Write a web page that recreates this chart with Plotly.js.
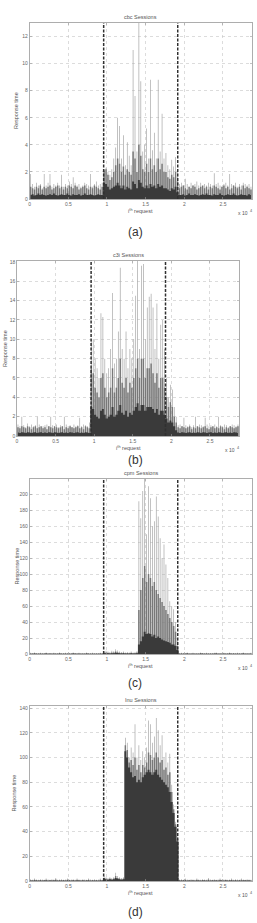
<!DOCTYPE html>
<html><head><meta charset="utf-8">
<script src="https://cdn.plot.ly/plotly-3.0.1.min.js"></script>
<style>html,body{margin:0;padding:0;background:#fff}#chart{width:257px;height:923px}</style>
</head><body><div id="chart"></div>
<script>
// ---- data: responses binned per 250 requests (115 bins, 0 .. 28750) ----
const BIN = 250;
const xTickVals = [0, 5000, 10000, 15000, 20000, 25000];
const xTickText = ['0', '0.5', '1', '1.5', '2', '2.5'];
const xMax = 28760;

// (a) cbc
const peakA = [1.85,1.1,0.9,1.2,1.0,1.1,0.8,1.85,1.0,1.2,1.85,0.9,1.1,1.0,1.2,1.0,1.8,0.9,1.1,1.0,1.3,1.1,1.6,1.2,1.0,1.1,0.9,1.0,1.2,1.1,1.0,1.85,0.9,1.1,1.3,1.0,1.1,1.2,
 2.2,2.3,2.0,1.8,2.2,3.0,3.8,6.0,5.4,3.0,4.7,2.5,4.2,3.2,2.5,11.0,7.6,3.5,13.0,8.7,3.5,4.0,5.2,3.0,8.8,3.6,4.9,3.0,8.8,3.5,6.3,3.0,3.4,2.5,2.2,2.9,2.4,3.1,2.0,
 1.1,1.2,1.0,1.5,1.1,0.9,1.2,1.0,1.1,1.3,1.0,1.2,0.9,1.1,1.0,1.2,1.1,1.0,1.9,1.1,1.2,1.0,0.9,1.1,1.2,1.0,1.85,1.1,1.0,1.2,0.9,1.1,1.0,1.2,1.1,1.0,1.1,0.9];
const midA = [0.9,0.8,0.7,0.9,0.8,1.0,0.7,0.9,0.8,0.9,1.0,0.7,0.8,0.9,1.0,0.8,0.9,0.7,0.9,0.8,1.0,0.9,0.8,1.0,0.9,0.7,0.8,0.9,1.0,0.8,0.7,0.9,0.8,1.0,0.9,0.8,0.7,0.9,
 2.1,2.2,1.8,1.4,1.6,2.0,2.5,3.0,2.6,2.0,2.4,1.8,2.2,2.0,1.8,3.5,3.0,2.0,4.0,3.2,2.2,2.0,2.6,2.0,3.0,2.2,2.5,2.0,3.0,2.2,2.6,2.0,2.0,1.6,1.5,1.8,1.6,2.0,1.3,
 0.8,0.9,1.0,0.8,0.7,0.9,0.8,1.0,0.9,0.7,0.8,0.9,1.0,0.8,0.9,0.7,0.9,0.8,1.0,0.9,0.8,0.7,0.9,1.0,0.8,0.9,0.7,0.8,1.0,0.9,0.8,0.9,0.7,1.0,0.8,0.9,0.8,0.7];
const coreA = [0.3,0.35,0.25,0.3,0.4,0.3,0.35,0.3,0.25,0.3,0.35,0.3,0.4,0.3,0.25,0.3,0.35,0.3,0.3,0.4,0.3,0.25,0.35,0.3,0.3,0.35,0.25,0.3,0.4,0.3,0.3,0.35,0.3,0.25,0.3,0.35,0.3,0.3,
 1.2,1.1,0.9,0.7,0.8,0.9,1.0,1.2,1.0,0.8,1.0,0.7,0.9,0.8,0.7,1.3,1.1,0.8,1.4,1.2,0.9,0.8,1.0,0.8,1.1,0.9,1.0,0.8,1.1,0.9,1.0,0.8,0.8,0.7,0.6,0.8,0.7,0.9,0.5,
 0.3,0.3,0.35,0.25,0.3,0.4,0.3,0.3,0.35,0.3,0.25,0.3,0.35,0.3,0.4,0.3,0.3,0.25,0.35,0.3,0.3,0.4,0.3,0.25,0.3,0.35,0.3,0.3,0.4,0.3,0.25,0.3,0.35,0.3,0.3,0.25,0.35,0.3];
const boundsA = [9570, 19150];

// (b) c3i
const peakB = [1.2,1.0,2.0,1.1,0.9,1.3,1.0,1.2,1.0,1.1,2.0,1.2,0.9,1.0,1.1,1.2,1.0,2.0,1.1,1.0,1.2,0.9,1.1,1.0,2.0,1.2,1.0,1.1,0.9,1.2,1.0,1.1,1.9,1.0,1.2,1.1,1.0,1.4,
 10.0,10.0,8.0,7.0,6.0,12.7,12.3,8.0,6.5,7.0,9.0,14.8,7.5,8.0,10.8,17.4,9.0,8.0,10.8,7.0,9.0,8.0,10.0,14.5,18.1,9.0,17.6,17.8,10.0,13.3,14.4,14.7,13.3,9.0,13.7,8.0,11.5,12.0,9.0,6.0,4.0,5.3,4.8,3.0,2.0,
 1.1,1.2,1.0,1.9,1.1,1.0,1.2,0.9,1.1,2.0,1.0,1.2,1.1,1.0,1.9,1.2,1.0,1.1,0.9,1.2,1.0,2.0,1.1,1.0,1.2,1.1,0.9,1.0,1.2,1.1,1.0,1.2];
const midB = [0.9,0.8,1.0,0.9,0.8,1.0,0.9,0.7,0.9,1.0,0.8,0.9,1.0,0.8,0.9,0.7,1.0,0.9,0.8,1.0,0.9,0.8,0.9,1.0,0.7,0.9,0.8,1.0,0.9,0.8,0.9,1.0,0.8,0.9,0.7,1.0,0.9,0.8,
 7.0,6.5,5.0,4.5,4.0,6.0,6.5,5.0,4.0,4.5,5.0,7.0,4.5,5.0,6.0,8.0,5.5,5.0,6.0,4.5,5.5,5.0,6.0,7.0,8.0,6.0,8.0,8.0,6.0,7.0,7.0,7.5,6.5,5.5,6.5,5.0,6.0,6.0,5.0,4.0,3.0,3.5,3.0,2.0,1.4,
 0.9,0.8,1.0,0.9,0.8,0.9,1.0,0.7,0.9,0.8,1.0,0.9,0.8,0.9,1.0,0.8,0.7,0.9,1.0,0.8,0.9,0.8,1.0,0.9,0.7,0.9,0.8,1.0,0.9,0.8,0.9,1.0];
const coreB = [0.35,0.3,0.4,0.35,0.3,0.4,0.35,0.3,0.35,0.4,0.3,0.35,0.4,0.3,0.35,0.3,0.4,0.35,0.3,0.4,0.35,0.3,0.35,0.4,0.3,0.35,0.3,0.4,0.35,0.3,0.35,0.4,0.3,0.35,0.3,0.4,0.35,0.3,
 3.0,2.8,2.2,2.0,1.8,2.6,2.8,2.2,1.8,2.0,2.2,3.0,2.0,2.2,2.6,3.2,2.4,2.2,2.6,2.0,2.4,2.2,2.6,3.0,3.4,2.6,3.2,3.2,2.6,3.0,3.0,3.0,2.8,2.4,2.8,2.2,2.6,2.6,2.2,1.8,1.4,1.6,1.4,1.0,0.6,
 0.35,0.3,0.4,0.35,0.3,0.35,0.4,0.3,0.35,0.3,0.4,0.35,0.3,0.4,0.35,0.3,0.35,0.4,0.3,0.35,0.3,0.4,0.35,0.3,0.35,0.4,0.3,0.35,0.3,0.4,0.35,0.3];
const boundsB = [9600, 19240];

// (c) cpm
const peakC = [1.5,1.0,2.0,1.2,1.0,1.5,1.0,1.2,2.0,1.0,1.3,1.0,1.5,1.2,1.0,2.0,1.0,1.2,1.5,1.0,1.2,1.0,2.0,1.3,1.0,1.5,1.0,1.2,1.0,2.0,1.2,1.0,1.5,1.0,1.2,1.0,1.5,1.0,
 3.0,4.0,3.0,2.5,4.0,3.5,6.0,4.5,3.0,2.5,3.0,2.0,2.5,2.0,3.0,2.0,2.5,3.5,
 191,170,204,219,150,210,195,160,166,197,172,145,120,137,112,95,66,60,56,40,20,
 1.0,1.5,1.2,1.0,2.0,1.0,1.2,1.5,1.0,1.2,1.0,2.0,1.3,1.0,1.5,1.0,1.2,1.0,1.5,2.0,1.0,1.2,1.0,1.5,1.0,1.2,2.0,1.0,1.3,1.0,1.5,1.2,1.0,2.0,1.0,1.2,1.0,1.5];
const midC = [0.8,0.6,1.0,0.7,0.6,0.8,0.6,0.7,1.0,0.6,0.8,0.6,0.8,0.7,0.6,1.0,0.6,0.7,0.8,0.6,0.7,0.6,1.0,0.8,0.6,0.8,0.6,0.7,0.6,1.0,0.7,0.6,0.8,0.6,0.7,0.6,0.8,0.6,
 1.5,2.0,1.5,1.2,2.0,1.8,3.0,2.2,1.5,1.2,1.5,1.0,1.2,1.0,1.5,1.0,1.2,1.8,
 55,80,95,110,90,100,95,85,90,80,75,70,65,60,55,50,45,40,35,28,10,
 0.6,0.8,0.7,0.6,1.0,0.6,0.7,0.8,0.6,0.7,0.6,1.0,0.8,0.6,0.8,0.6,0.7,0.6,0.8,1.0,0.6,0.7,0.6,0.8,0.6,0.7,1.0,0.6,0.8,0.6,0.8,0.7,0.6,1.0,0.6,0.7,0.6,0.8];
const coreC = [0.4,0.3,0.5,0.4,0.3,0.4,0.3,0.4,0.5,0.3,0.4,0.3,0.4,0.4,0.3,0.5,0.3,0.4,0.4,0.3,0.4,0.3,0.5,0.4,0.3,0.4,0.3,0.4,0.3,0.5,0.4,0.3,0.4,0.3,0.4,0.3,0.4,0.3,
 0.8,1.0,0.8,0.6,1.0,0.9,1.5,1.1,0.8,0.6,0.8,0.5,0.6,0.5,0.8,0.5,0.6,0.9,
 12,16,22,28,25,26,25,22,24,20,22,20,18,17,16,15,14,12,12,10,5,
 0.3,0.4,0.4,0.3,0.5,0.3,0.4,0.4,0.3,0.4,0.3,0.5,0.4,0.3,0.4,0.3,0.4,0.3,0.4,0.5,0.3,0.4,0.3,0.4,0.3,0.4,0.5,0.3,0.4,0.3,0.4,0.4,0.3,0.5,0.3,0.4,0.3,0.4];
const boundsC = [9570, 19150];

// (d) Inu
const peakD = [1.5,1.0,2.0,1.2,1.0,1.5,1.2,1.0,2.0,1.2,1.0,1.5,1.2,2.5,1.0,1.2,1.5,1.0,1.2,2.0,1.0,1.2,1.5,1.0,2.0,1.2,1.0,1.5,1.2,1.0,2.0,1.2,1.0,1.5,1.0,1.2,2.0,1.0,
 4.0,3.0,2.5,3.0,2.5,3.0,6.7,4.0,3.0,2.5,3.0,
 116,112,100,108,104,127,100,110,98,105,100,108,130,127,112,117,132,122,110,118,100,104,96,103,78,62,48,36,
 1.2,1.5,1.0,2.0,1.2,1.0,1.5,1.2,1.0,2.0,1.2,1.0,1.5,1.2,1.0,2.5,1.2,1.0,1.5,1.0,1.2,2.0,1.0,1.2,1.5,1.0,1.2,2.0,1.0,1.5,1.2,1.0,2.0,1.2,1.0,1.5,1.2,1.0];
const midD = [0.8,0.6,1.0,0.7,0.6,0.8,0.7,0.6,1.0,0.7,0.6,0.8,0.7,1.2,0.6,0.7,0.8,0.6,0.7,1.0,0.6,0.7,0.8,0.6,1.0,0.7,0.6,0.8,0.7,0.6,1.0,0.7,0.6,0.8,0.6,0.7,1.0,0.6,
 2.5,2.0,1.5,2.0,1.5,2.0,4.0,2.5,2.0,1.5,2.0,
 110,106,96,98,94,100,90,94,88,94,92,96,104,102,98,100,104,100,96,98,90,92,86,88,72,58,46,34,
 0.7,0.8,0.6,1.0,0.7,0.6,0.8,0.7,0.6,1.0,0.7,0.6,0.8,0.7,0.6,1.2,0.7,0.6,0.8,0.6,0.7,1.0,0.6,0.7,0.8,0.6,0.7,1.0,0.6,0.8,0.7,0.6,1.0,0.7,0.6,0.8,0.7,0.6];
const coreD = [0.4,0.3,0.5,0.4,0.3,0.4,0.3,0.4,0.5,0.3,0.4,0.3,0.4,0.5,0.3,0.4,0.3,0.4,0.3,0.5,0.4,0.3,0.4,0.3,0.5,0.4,0.3,0.4,0.3,0.4,0.5,0.3,0.4,0.3,0.4,0.3,0.5,0.4,
 2.0,1.5,1.0,1.5,1.0,1.5,2.5,1.8,1.5,1.0,1.5,
 105,100,92,88,84,85,80,82,80,84,86,88,90,88,86,88,90,86,84,82,80,78,76,72,64,55,44,32,
 0.4,0.3,0.4,0.5,0.3,0.4,0.3,0.4,0.3,0.5,0.4,0.3,0.4,0.4,0.3,0.5,0.3,0.4,0.3,0.4,0.3,0.5,0.4,0.3,0.4,0.3,0.4,0.5,0.3,0.4,0.3,0.4,0.3,0.5,0.4,0.3,0.4,0.3];
const boundsD = [9570, 19150];

const titles = ['cbc Sessions', 'c3i Sessions', 'cpm Sessions', 'Inu Sessions'];
const captions = ['(a)', '(b)', '(c)', '(d)'];
const yMaxes = [13, 18.1, 219, 141.7];
const yDticks = [2, 2, 20, 20];
const xLabel = 'i\u1D57\u02B0 request';
const xScaleBase = 'x 10';
const xScaleExp = '4';
const yLabel = 'Response time';

// ---- layout geometry (pixels) ----
const W = 257, H = 923;
const boxes = [
  {l: 29.7, r: 252, t: 23, b: 199, ylab: 16, cap: 232},
  {l: 17, r: 239, t: 261, b: 436, ylab: 4.5, cap: 460},
  {l: 29.7, r: 252, t: 479, b: 654, ylab: 16, cap: 683},
  {l: 29.7, r: 252, t: 706, b: 881, ylab: 13, cap: 912}
];
const series = [
  [peakA, midA, coreA, boundsA],
  [peakB, midB, coreB, boundsB],
  [peakC, midC, coreC, boundsC],
  [peakD, midD, coreD, boundsD]
];
const px = v => v / W, py = v => 1 - v / H;
const FONT = 'Liberation Sans, Arial, DejaVu Sans, sans-serif';

const traces = [], shapes = [], annotations = [];
const layout = {
  width: W, height: H, margin: {l: 0, r: 0, t: 0, b: 0},
  paper_bgcolor: '#fff', plot_bgcolor: '#fff',
  showlegend: false, barmode: 'overlay', hovermode: false,
  font: {family: FONT, size: 5, color: '#666'}
};

series.forEach((s, k) => {
  const [peak, mid, core, bounds] = s;
  const n = k === 0 ? '' : String(k + 1);
  const xa = 'x' + n, ya = 'y' + n;
  const xs = peak.map((_, i) => i * BIN + BIN / 2);
  traces.push({type: 'bar', x: xs, y: peak, width: 90, xaxis: xa, yaxis: ya,
               marker: {color: '#a6a6a6'}});
  traces.push({type: 'bar', x: xs, y: mid, width: 190, xaxis: xa, yaxis: ya,
               marker: {color: '#787878'}});
  traces.push({type: 'scatter', mode: 'lines', x: xs, y: core, xaxis: xa, yaxis: ya,
               line: {shape: 'hvh', width: 0, color: '#3a3a3a'},
               fill: 'tozeroy', fillcolor: '#3a3a3a'});
  const b = boxes[k];
  const axCommon = {
    showline: true, mirror: 'ticks', linecolor: '#999', linewidth: 0.8,
    ticks: 'inside', ticklen: 2, tickcolor: '#999', tickwidth: 0.6,
    showgrid: true, gridcolor: '#c4c4c4', gridwidth: 0.6, griddash: 'dot',
    zeroline: false, tickfont: {family: FONT, size: 5, color: '#666'}, fixedrange: true
  };
  layout['xaxis' + n] = Object.assign({}, axCommon, {
    domain: [px(b.l), px(b.r)], anchor: ya, range: [0, xMax],
    tickmode: 'array', tickvals: xTickVals, ticktext: xTickText
  });
  layout['yaxis' + n] = Object.assign({}, axCommon, {
    domain: [py(b.b), py(b.t)], anchor: xa, range: [0, yMaxes[k]],
    tick0: 0, dtick: yDticks[k]
  });
  bounds.forEach(v => shapes.push({type: 'line', xref: xa, yref: ya + ' domain',
    x0: v, x1: v, y0: 0, y1: 1, line: {color: '#303030', width: 1.5, dash: '3px,1.5px'}}));
  const cx = (b.l + b.r) / 2;
  annotations.push({xref: 'paper', yref: 'paper', x: px(cx), y: py(b.t - 6), text: titles[k],
    showarrow: false, font: {family: FONT, size: 5.5, color: '#555'}, xanchor: 'center', yanchor: 'middle'});
  annotations.push({xref: 'paper', yref: 'paper', x: px(b.ylab), y: py((b.t + b.b) / 2), text: yLabel,
    textangle: -90, showarrow: false, font: {family: FONT, size: 5.5, color: '#555'}, xanchor: 'center', yanchor: 'middle'});
  annotations.push({xref: 'paper', yref: 'paper', x: px(cx), y: py(b.b + 12), text: xLabel,
    showarrow: false, font: {family: FONT, size: 5.5, color: '#555'}, xanchor: 'center', yanchor: 'middle'});
  annotations.push({xref: 'paper', yref: 'paper', x: px(b.r - 2), y: py(b.b + 14), text: xScaleBase,
    showarrow: false, font: {family: FONT, size: 5, color: '#555'}, xanchor: 'right', yanchor: 'middle'});
  annotations.push({xref: 'paper', yref: 'paper', x: px(b.r - 3.8), y: py(b.b + 12), text: xScaleExp,
    showarrow: false, font: {family: FONT, size: 3.8, color: '#555'}, xanchor: 'left', yanchor: 'middle'});
  annotations.push({xref: 'paper', yref: 'paper', x: px(135), y: py(b.cap), text: captions[k],
    showarrow: false, font: {family: FONT, size: 12, color: '#333'}, xanchor: 'center', yanchor: 'middle'});
});
layout.shapes = shapes;
layout.annotations = annotations;

Plotly.newPlot('chart', traces, layout, {staticPlot: true, displayModeBar: false});
</script></body></html>
